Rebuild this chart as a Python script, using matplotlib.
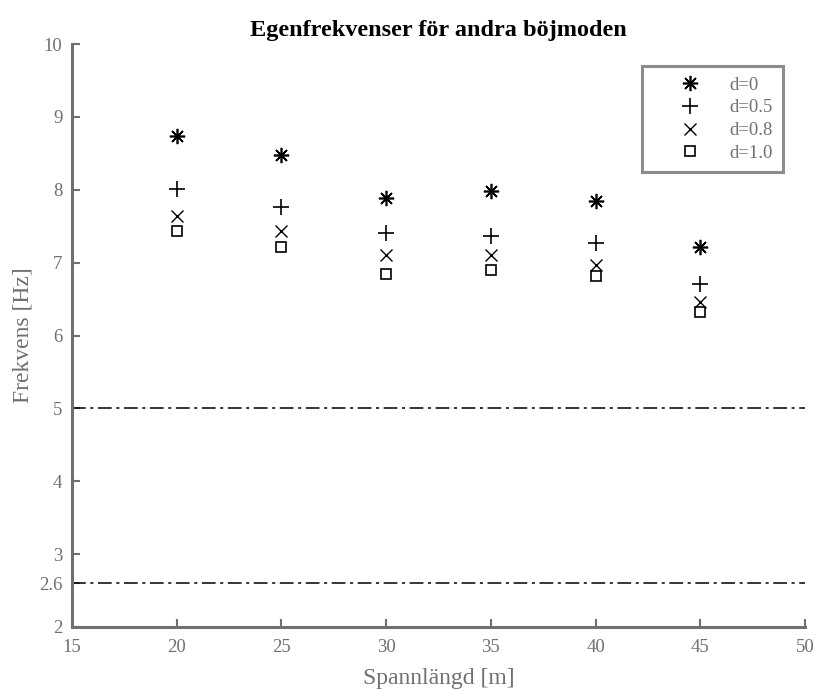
import matplotlib.pyplot as plt

# Spannlängd [m] och egenfrekvenser [Hz] för andra böjmoden
span = [20, 25, 30, 35, 40, 45]
freq_d00 = [8.74, 8.48, 7.89, 7.98, 7.85, 7.21]
freq_d05 = [8.01, 7.76, 7.41, 7.37, 7.27, 6.71]
freq_d08 = [7.64, 7.44, 7.11, 7.10, 6.97, 6.46]
freq_d10 = [7.44, 7.22, 6.85, 6.90, 6.82, 6.32]
limits = [5.0, 2.6]
yticks = [2, 2.6, 3, 4, 5, 6, 7, 8, 9, 10]
ytick_labels = ['2', '2.6', '3', '4', '5', '6', '7', '8', '9', '10']

plt.rcParams['font.family'] = ['Liberation Serif', 'DejaVu Serif']
grey = '#707070'

fig = plt.figure(figsize=(8.18, 6.89), dpi=100)
ax = fig.add_axes([0.088, 0.09, 0.896, 0.846])

ax.plot(span, freq_d00, linestyle='none', marker=(8, 2, 0), ms=11, mew=1.2, color='k', label='d=0')
ax.plot(span, freq_d05, linestyle='none', marker='+', ms=12, mew=1.2, color='k', label='d=0.5')
ax.plot(span, freq_d08, linestyle='none', marker='x', ms=8, mew=1.0, color='k', label='d=0.8')
ax.plot(span, freq_d10, linestyle='none', marker='s', ms=7.5, mew=1.2, color='k',
        markerfacecolor='none', label='d=1.0')

for lim in limits:
    ax.axhline(lim, color='k', lw=1.1, linestyle=(0, (9, 3, 2, 3)))

ax.set_xlim(15, 50)
ax.set_ylim(2, 10)
ax.set_xticks(range(15, 51, 5))
ax.set_yticks(yticks)
ax.set_yticklabels(ytick_labels)

for side in ['top', 'right']:
    ax.spines[side].set_visible(False)
for side in ['left', 'bottom']:
    ax.spines[side].set_color(grey)
    ax.spines[side].set_linewidth(2.2)
ax.tick_params(direction='in', length=6, width=1.5, color=grey, labelcolor=grey, labelsize=13.5, pad=7)
ax.tick_params(axis='x', pad=9)

ax.set_xlabel('Spannlängd [m]', color=grey, fontsize=17, labelpad=8)
ax.set_ylabel('Frekvens [Hz]', color=grey, fontsize=17, labelpad=4)
ax.set_title('Egenfrekvenser för andra böjmoden', fontsize=17.5, fontweight='bold', pad=6)

leg = ax.legend(loc='upper right', bbox_to_anchor=(0.97, 0.962), fontsize=13.5, frameon=True,
                fancybox=False, handlelength=4.0, handletextpad=0.1, borderpad=0.55,
                borderaxespad=0, labelspacing=0.3)
leg.get_frame().set_edgecolor(grey)
leg.get_frame().set_linewidth(2.2)
for t in leg.get_texts():
    t.set_color(grey)

fig.savefig('out.png', dpi=100)
